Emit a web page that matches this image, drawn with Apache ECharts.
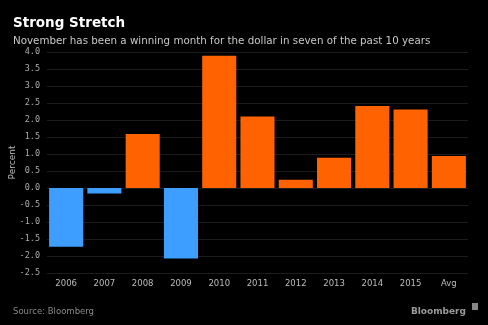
<!DOCTYPE html>
<html><head><meta charset="utf-8">
<script src="https://cdn.jsdelivr.net/npm/echarts@6/dist/echarts.min.js"></script>
<style>html,body{margin:0;padding:0;background:#000;}#c{width:488px;height:325px;}</style>
</head><body><div id="c"></div>
<script>
const categories = ['2006','2007','2008','2009','2010','2011','2012','2013','2014','2015','Avg'];
const values = [-1.73,-0.16,1.59,-2.07,3.89,2.10,0.24,0.89,2.41,2.31,0.94];
const yTicks = [-2.5,-2.0,-1.5,-1.0,-0.5,0.0,0.5,1.0,1.5,2.0,2.5,3.0,3.5,4.0];

const chart = echarts.init(document.getElementById('c'), null, {renderer:'canvas'});
chart.setOption({
  backgroundColor:'#000',
  animation:false,
  title:[
    {text:'Strong Stretch', left:8, top:11, textStyle:{color:'#fff', fontSize:13.5, fontWeight:'bold', fontFamily:'DejaVu Sans'}},
    {text:'November has been a winning month for the dollar in seven of the past 10 years', left:8, top:31, textStyle:{color:'#c8c8c8', fontSize:10.3, fontWeight:'normal', fontFamily:'DejaVu Sans'}},
    {text:'Source: Bloomberg', left:8, top:302, textStyle:{color:'#8a8a8a', fontSize:8.5, fontWeight:'normal', fontFamily:'DejaVu Sans'}},
    {text:'Bloomberg', right:17, top:302, textStyle:{color:'#9a9a9a', fontSize:9, fontWeight:'bold', fontFamily:'DejaVu Sans'}}
  ],
  graphic:[{type:'rect', shape:{x:472, y:303, width:6, height:7}, style:{fill:'#888'}}],
  grid:{left:47, right:20, top:52, bottom:52, containLabel:false, outerBoundsMode:'none'},
  xAxis:{type:'category', data:categories,
    axisLine:{show:false}, axisTick:{show:false},
    axisLabel:{color:'#bbb', fontSize:8.5, fontFamily:'DejaVu Sans', margin:6}},
  yAxis:{type:'value', min:-2.5, max:4.0, interval:0.5,
    name:'Percent', nameLocation:'middle', nameGap:30, nameRotate:90, nameMoveOverlap:false,
    nameTextStyle:{color:'#bbb', fontSize:9, fontFamily:'DejaVu Sans'},
    axisLine:{show:false}, axisTick:{show:false},
    splitLine:{lineStyle:{color:'#1c1c1c', width:1}},
    axisLabel:{color:'#aaa', fontSize:8.5, fontFamily:'DejaVu Sans Mono', margin:7,
      formatter:v=>v.toFixed(1)}},
  series:[{type:'bar', barCategoryGap:'11%',
    data:values.map(v=>({value:v, itemStyle:{color: v<0 ? '#3d9eff' : '#ff6200'}}))}]
});
</script></body></html>
